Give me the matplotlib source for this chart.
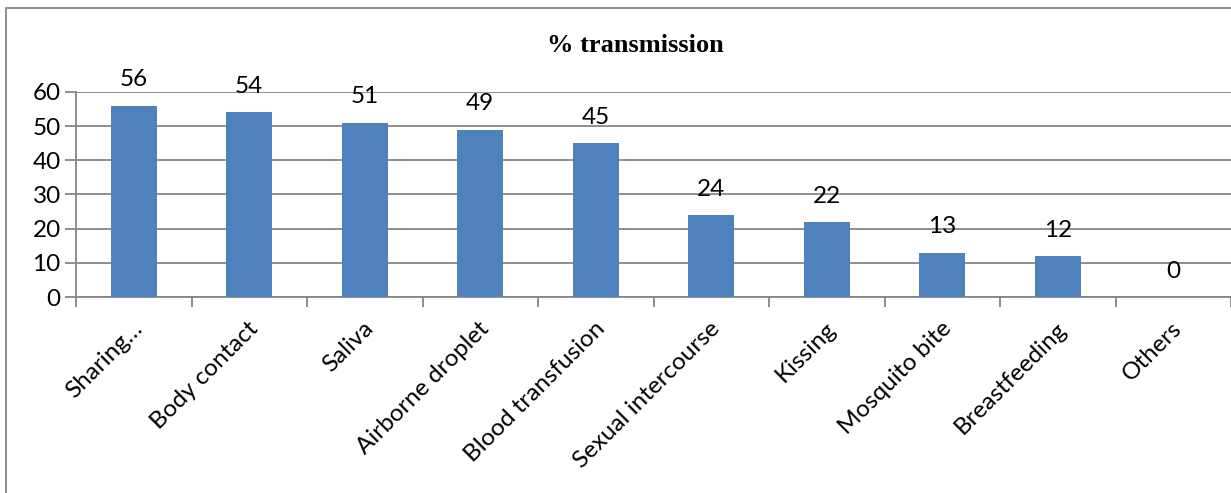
import numpy as np
import matplotlib.pyplot as plt
import matplotlib.transforms as mtransforms
from matplotlib.patches import Rectangle

categories = ['Sharing…', 'Body contact', 'Saliva', 'Airborne droplet', 'Blood transfusion',
              'Sexual intercourse', 'Kissing', 'Mosquito bite', 'Breastfeeding', 'Others']
values = [56, 54, 51, 49, 45, 24, 22, 13, 12, 0]
yticks = [0, 10, 20, 30, 40, 50, 60]

W, H = 1231, 493
fig = plt.figure(figsize=(W / 100, H / 100), dpi=100)
ax = fig.add_axes([76 / W, (H - 297) / H, (W - 76) / W, (297 - 92) / H])

x = np.arange(len(categories))
ax.bar(x, values, width=0.4, color='#4F81BD', zorder=3)
ax.set_xlim(-0.5, len(categories) - 0.5)
ax.set_ylim(0, 60)
ax.set_yticks(yticks)
ax.yaxis.grid(True, color='#868686', linewidth=1.3, zorder=0)

for s in ['top', 'right']:
    ax.spines[s].set_visible(False)
for s in ['left', 'bottom']:
    ax.spines[s].set_color('#868686')
    ax.spines[s].set_linewidth(1.3)

font = 'Lato'
fs = 17.5
ax.tick_params(axis='y', length=8, width=1.3, color='#868686', pad=3, labelsize=fs)
ax.set_xticks(x)
ax.set_xticklabels(categories, rotation=45, ha='right', rotation_mode='anchor',
                   fontsize=fs, fontfamily=font)
ax.tick_params(axis='x', length=0, pad=15)
for lbl in ax.get_yticklabels():
    lbl.set_fontfamily(font)
offset = mtransforms.ScaledTranslation(-2 / 100, 0, fig.dpi_scale_trans)
for lbl in ax.get_xticklabels():
    lbl.set_transform(lbl.get_transform() + offset)
# category boundary tick marks
ax.set_xticks(np.arange(len(categories) + 1) - 0.5, minor=True)
ax.tick_params(axis='x', which='minor', length=7, width=1.3, color='#868686')

for xi, v in zip(x, values):
    ax.annotate(str(v), (xi, v), xytext=(0, 11), textcoords='offset points',
                ha='center', va='bottom', fontsize=fs, fontfamily=font)

fig.text(635 / W, 1 - 45 / H, '% transmission', ha='center', va='center',
         fontsize=19, fontweight='bold', fontfamily='Liberation Serif')

fig.patches.append(Rectangle((6 / W, -0.1), 1.2, 1 - 8 / H + 0.1, transform=fig.transFigure,
                             fill=False, edgecolor='#868686', linewidth=1.3))

fig.savefig('out.png', dpi=100)
